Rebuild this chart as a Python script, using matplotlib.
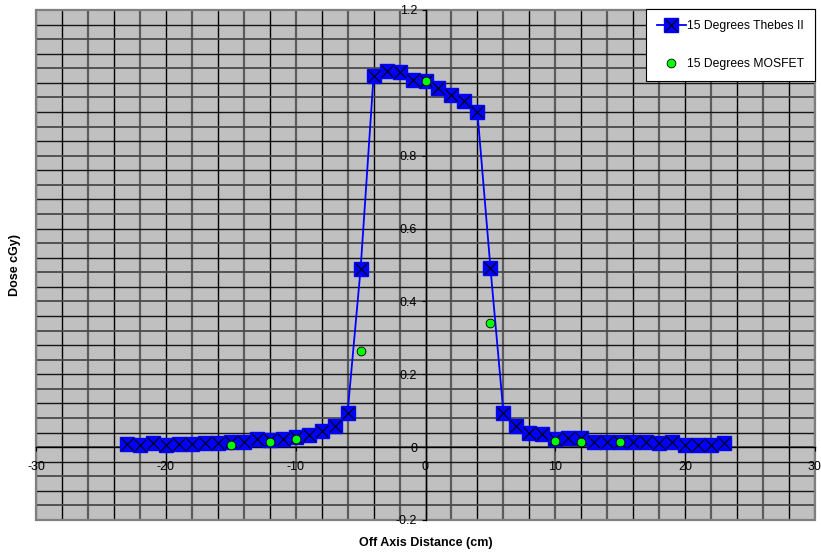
import numpy as np
import matplotlib
matplotlib.use("Agg")
import matplotlib.pyplot as plt
from matplotlib.patches import Rectangle
from matplotlib.ticker import MultipleLocator, FuncFormatter

plt.rcParams['font.family'] = ['Liberation Sans', 'DejaVu Sans']

# 15 degrees wedge profile
thebes_x = list(range(-23, 24))
thebes_y = [0.009, 0.006, 0.011, 0.006, 0.008, 0.008, 0.011, 0.011, 0.013, 0.015,
            0.022, 0.020, 0.022, 0.027, 0.034, 0.043, 0.057,
            0.095, 0.489, 1.018, 1.033, 1.029, 1.008,
            1.004, 0.985, 0.967, 0.950, 0.919,
            0.493, 0.095, 0.059, 0.040, 0.036, 0.022, 0.025, 0.025, 0.013, 0.013,
            0.013, 0.013, 0.013, 0.011, 0.013, 0.006, 0.006, 0.006, 0.011]

mosfet_x = [-15, -12, -10, -5, 0, 5, 10, 12, 15]
mosfet_y = [0.007, 0.015, 0.023, 0.263, 1.004, 0.340, 0.018, 0.013, 0.013]

xlabel = 'Off Axis Distance (cm)'
ylabel = 'Dose cGy)'

fig = plt.figure(figsize=(8.21, 5.55), dpi=100)
ax = fig.add_axes([36/821, 1-520/555, 779/821, 510/555])
ax.set_facecolor('#C0C0C0')
ax.set_xlim(-30, 30)
ax.set_ylim(-0.2, 1.2)

# gridlines, alternating black / dark gray like the original
for i, xv in enumerate(np.arange(-30, 30.1, 2)):
    if i % 2:
        ax.axvline(xv, color='black', lw=1.0, zorder=0.5)
    else:
        ax.axvline(xv, color='#5c5c5c', lw=1.6, zorder=0.5)
for i, yv in enumerate(np.arange(-0.2, 1.201, 0.04)):
    if i % 2:
        ax.axhline(yv, color='#4a4a4a', lw=1.3, zorder=0.5)
    else:
        ax.axhline(yv, color='#151515', lw=1.0, zorder=0.5)

ax.add_patch(Rectangle((0, 0), 1, 1, transform=ax.transAxes, fill=False,
                       edgecolor='#7f7f7f', lw=1.6, zorder=1, clip_on=False))

# axes crossing at zero
ax.spines['left'].set_position(('data', 0))
ax.spines['bottom'].set_position(('data', 0))
ax.spines['top'].set_visible(False)
ax.spines['right'].set_visible(False)
ax.spines['left'].set_color('black')
ax.spines['bottom'].set_color('black')
ax.spines['left'].set_linewidth(1.0)
ax.spines['bottom'].set_linewidth(1.0)

ax.xaxis.set_major_locator(MultipleLocator(10))
ax.yaxis.set_major_locator(MultipleLocator(0.2))
fmt = FuncFormatter(lambda v, p: '%g' % round(v, 2))
ax.xaxis.set_major_formatter(fmt)
ax.yaxis.set_major_formatter(fmt)
ax.tick_params(axis='x', direction='out', length=3, width=0.8, pad=7, labelsize=9)
ax.tick_params(axis='y', direction='out', length=3, width=0.8, pad=3, labelsize=9)

l1, = ax.plot(thebes_x, thebes_y, color='#0000FF', lw=1.3, marker='s', ms=9.5,
              mfc='#0000FF', mec='#0000FF', zorder=4)
l2, = ax.plot(thebes_x, thebes_y, ls='none', marker='x', ms=8, mec='black',
              mew=0.8, zorder=5)
l3, = ax.plot(mosfet_x, mosfet_y, ls='none', marker='o', ms=6.3, mfc='#00FF00',
              mec='black', mew=0.6, zorder=6)

leg = ax.legend([(l1, l2), l3], ['15 Degrees Thebes II', '15 Degrees MOSFET'],
                loc='upper right', bbox_to_anchor=(1.0, 1.002), borderaxespad=0,
                fontsize=8.7, frameon=True, fancybox=False, framealpha=1,
                edgecolor='black', borderpad=0.9, labelspacing=2.2,
                handlelength=2.4, handletextpad=0.1)
leg.get_frame().set_linewidth(0.8)
leg.set_zorder(10)

fig.text(426/821, 1-543/555, xlabel, ha='center', va='center',
         fontsize=9, fontweight='bold')
fig.text(15/821, 1-265/555, ylabel, ha='center', va='center', rotation=90,
         fontsize=9, fontweight='bold')

fig.savefig('out.png', dpi=100)
